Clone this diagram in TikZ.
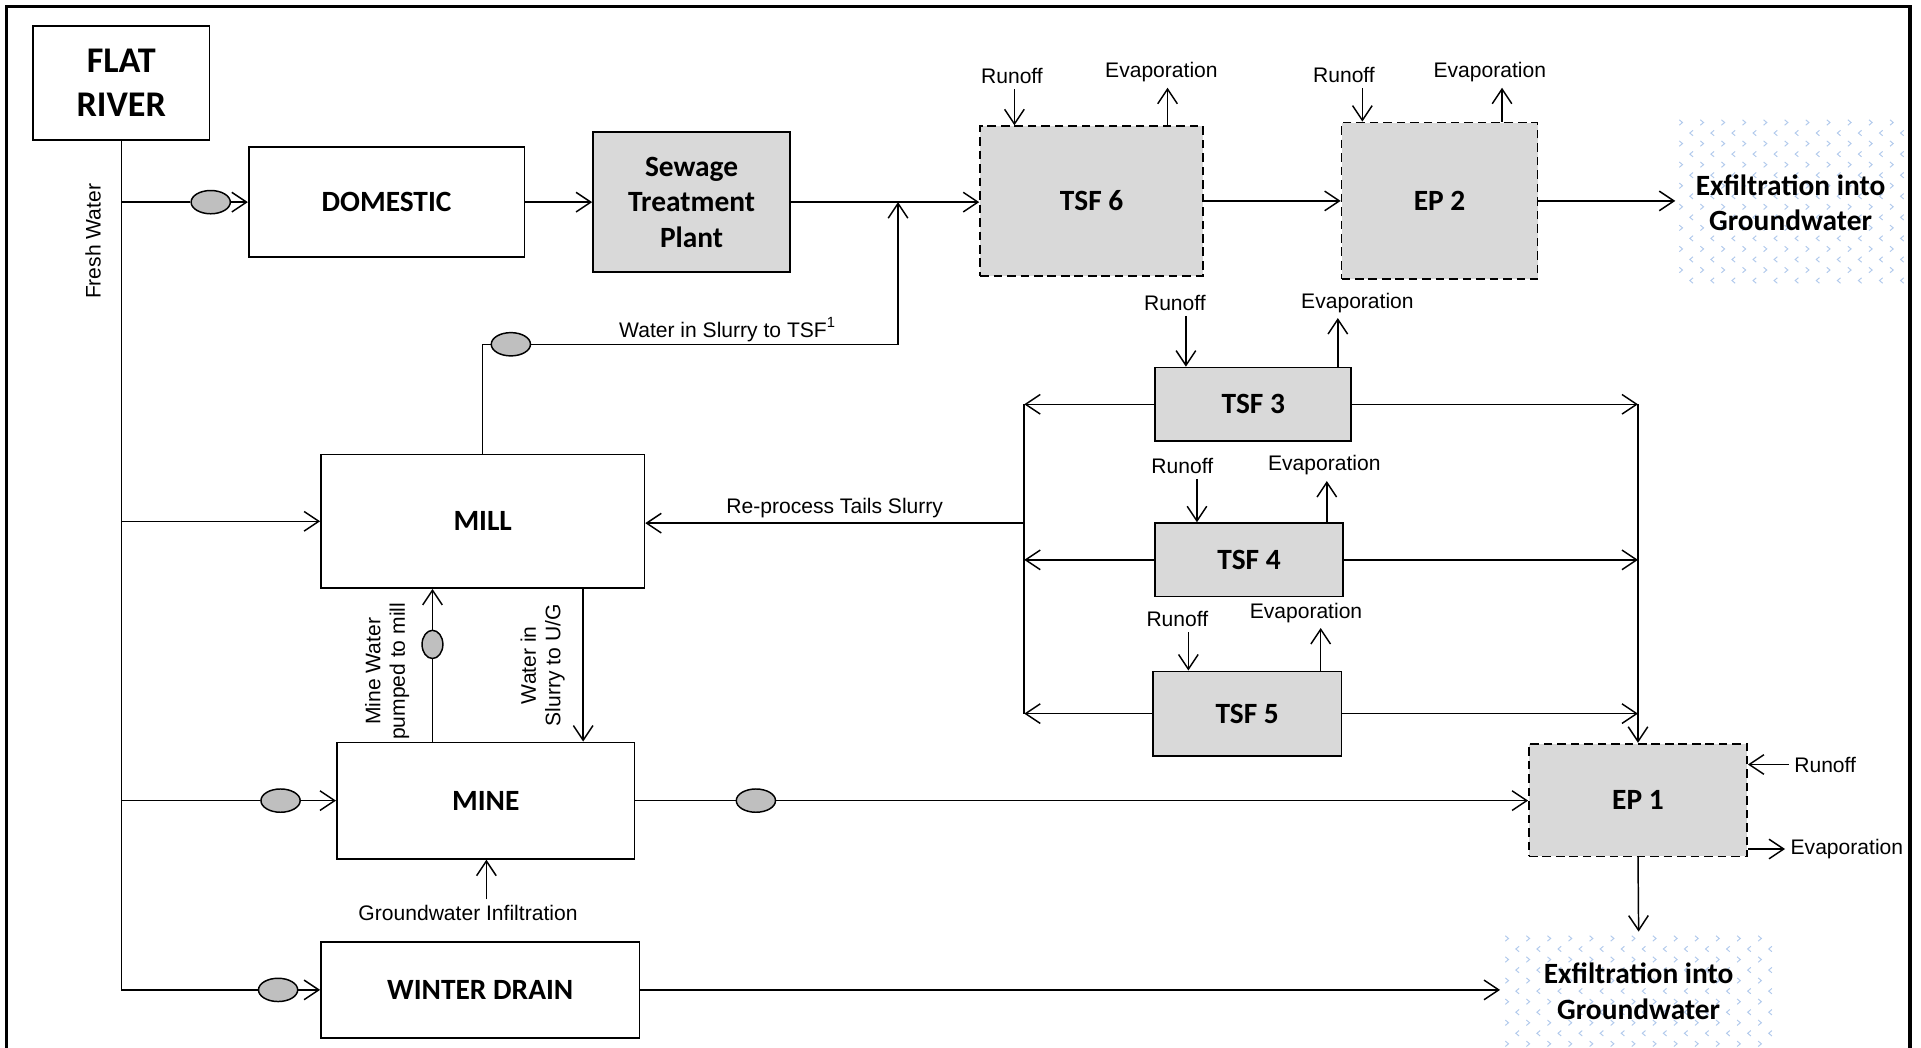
\documentclass[tikz,border=0pt]{standalone}
\usepackage{fontspec}
\setmainfont{Liberation Sans}
\newfontfamily\calibri{Carlito}
\usetikzlibrary{arrows.meta,shapes.geometric}
\definecolor{tankgrey}{RGB}{217,217,217}
\definecolor{pumpgrey}{RGB}{191,191,191}
\definecolor{chevblue}{RGB}{178,202,236}
\newcommand\boxfont{\calibri\bfseries\fontsize{12}{14.5}\selectfont}
\newcommand\lblfont{\fontsize{8.6}{10}\selectfont}
\begin{document}
\begin{tikzpicture}[x=0.5pt,y=-0.5pt,line width=0.6pt,
  >={Straight Barb[length=6pt,width=8pt]},
  box/.style={draw,line width=0.7pt,font=\boxfont,align=center,inner sep=0pt},
  tank/.style={box,fill=tankgrey},
  pond/.style={tank,dash pattern=on 3.5pt off 2pt},
  lbl/.style={font=\lblfont,inner sep=2pt},
  pump/.style={draw,fill=pumpgrey,ellipse,inner sep=0pt,minimum width=16pt,minimum height=9.5pt},
  vpump/.style={pump,minimum width=8.5pt,minimum height=11.5pt},
  chev/.style={chevblue,line width=0.4pt}]
\useasboundingbox (0,0) rectangle (1568,855);
\draw[line width=1.3pt] (5,870) -- (5,5) -- (1559,5) -- (1559,870);
\foreach \ox/\oy/\nc/\nr in {1372/100/10/15,1230/766/12/10}{
  \foreach \r in {0,...,\nr}{
    \foreach \c in {0,...,\nc}{
      \pgfmathsetmacro\px{\ox+\c*17.2+mod(\r,2)*8.6}
      \pgfmathsetmacro\py{\oy+\r*8.6}
      \pgfmathsetmacro\sg{1-2*mod(\r,2)}
      \draw[chev] (\px-1.3*\sg,\py-2.2) -- (\px+1.3*\sg,\py) -- (\px-1.3*\sg,\py+2.2);
    }
  }
}
\node[box,minimum width=72pt,minimum height=46.5pt,font=\calibri\bfseries\fontsize{14.75}{18}\selectfont] (river) at (99,67.5) {FLAT\\RIVER};
\node[box,minimum width=112.5pt,minimum height=45pt] (dom) at (315.5,165) {DOMESTIC};
\node[tank,minimum width=80.5pt,minimum height=57pt] (stp) at (564.5,165) {Sewage\\Treatment\\Plant};
\node[pond,minimum width=91pt,minimum height=61pt] (tsf6) at (891,164) {TSF 6};
\node[pond,minimum width=80pt,minimum height=64pt] (ep2) at (1175,164) {EP 2};
\node[font=\boxfont,align=center,minimum width=93.5pt,minimum height=69.5pt] (gw1) at (1461.5,165.5) {Exfiltration into\\Groundwater};
\node[tank,minimum width=80pt,minimum height=30pt] (tsf3) at (1023,330) {TSF 3};
\node[tank,minimum width=76.5pt,minimum height=30pt] (tsf4) at (1019.5,457) {TSF 4};
\node[tank,minimum width=77pt,minimum height=34.5pt] (tsf5) at (1018,582.5) {TSF 5};
\node[box,minimum width=132pt,minimum height=54.5pt] (mill) at (394,425.5) {MILL};
\node[box,minimum width=121.5pt,minimum height=47.5pt] (mine) at (396.5,653.5) {MINE};
\node[box,minimum width=130pt,minimum height=39pt] (wd) at (392,808) {WINTER DRAIN};
\node[pond,minimum width=89pt,minimum height=46pt] (ep1) at (1337,653) {EP 1};
\node[font=\boxfont,align=center,minimum width=112.5pt,minimum height=48pt] (gw2) at (1337.5,809) {Exfiltration into\\Groundwater};
\draw (river.south) -- (river.south |- wd);
\node[lbl,rotate=90] at (76,197) {Fresh Water};
\node[pump] (p1) at (172,165) {};
\node[pump] (p2) at (417,281) {};
\node[pump] (p3) at (229,653.5) {};
\node[pump] (p4) at (227,808) {};
\node[vpump] (p5) at (353,526) {};
\node[pump] (p6) at (617,653.5) {};
\draw (river.south |- dom) -- (p1.west);
\draw[->] (p1.east) -- (dom.west);
\draw[->] (dom) -- (stp);
\draw[->] (stp.east) -- (stp.east -| tsf6.west);
\draw[->] (tsf6) -- (ep2);
\draw[->] (ep2.east) -- (ep2.east -| gw1.west);
\coordinate (jn) at (733,165);
\draw (mill.north) |- (p2.west);
\draw[->] (p2.east) -| (jn);
\node[lbl] at (594,269) {Water in Slurry to TSF\textsuperscript{1}};
\foreach \t/\rx/\ry/\ra/\ex/\ey/\ea in {tsf6/826/62/828/948/59/953,ep2/1097/61/1112/1216/59/1226,tsf3/959/247/968/1108/247/1092,tsf4/965/380/977/1081/380/1083,tsf5/961/505/970/1066/500/1078}{
  \node[lbl] (ro\t) at (\rx,\ry) {Runoff};
  \node[lbl] (ev\t) at (\ex,\ey) {Evaporation};
  \draw[->] (ro\t.south -| \ra,0) -- (\ra,0 |- \t.north);
  \draw[->] (\ea,0 |- \t.north) -- (ev\t.south -| \ea,0);
}
\coordinate (lc) at (836,427);
\coordinate (rc) at (1337,330);
\draw (tsf3.west -| lc) -- (tsf5.west -| lc);
\foreach \t in {tsf3,tsf4,tsf5}{
  \draw[->] (\t.west) -- (\t.west -| lc);
  \draw[->] (\t.east) -- (\t.east -| rc);
}
\draw[->] (tsf3.east -| rc) -- (ep1.north);
\draw[->] (lc) -- (lc -| mill.east) node[lbl,midway,above]{Re-process Tails Slurry};
\draw[->] (river.south |- mill) -- (mill.west);
\draw (p5 |- mine.north) -- (p5.south);
\draw[->] (p5.north) -- (p5 |- mill.south);
\node[lbl,rotate=90,align=center] at (316,548) {Mine Water\\pumped to mill};
\draw[->] (476,0 |- mill.south) -- (476,0 |- mine.north);
\node[lbl,rotate=90,align=center] at (443,543) {Water in\\Slurry to U/G};
\draw (river.south |- mine) -- (p3.west);
\draw[->] (p3.east) -- (mine.west);
\draw (mine.east) -- (p6.west);
\draw[->] (p6.east) -- (p6.east -| ep1.west);
\node[lbl] (gwi) at (382,745) {Groundwater Infiltration};
\draw[->] (397,0 |- gwi.north) -- (397,0 |- mine.south);
\node[lbl,anchor=west] (roep1) at (1460,624) {Runoff};
\draw[->] (roep1.west) -- (roep1.west -| ep1.east);
\node[lbl,anchor=west] (evep1) at (1457,693) {Evaporation};
\draw[->] (evep1.west -| ep1.east) -- (evep1.west);
\draw[->] (ep1.south) -- (gw2.north);
\draw (river.south |- wd) -- (p4.west);
\draw[->] (p4.east) -- (wd.west);
\draw[->] (wd.east) -- (wd.east -| gw2.west);
\end{tikzpicture}
\end{document}
